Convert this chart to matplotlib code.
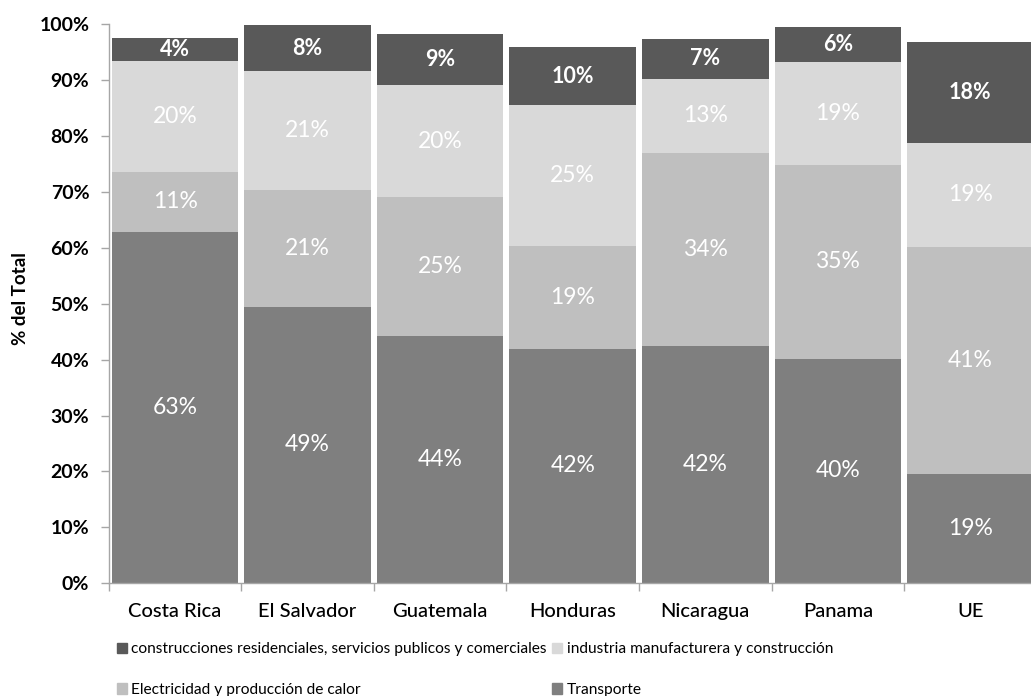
import matplotlib.pyplot as plt
from matplotlib.patches import Patch
from matplotlib.ticker import PercentFormatter
import numpy as np

plt.rcParams['font.family'] = ['Lato', 'DejaVu Sans']

paises = ['Costa Rica', 'El Salvador', 'Guatemala', 'Honduras', 'Nicaragua', 'Panama', 'UE']

# valores (% del total)
transporte = [62.9, 49.5, 44.3, 42.0, 42.5, 40.2, 19.5]
electricidad = [10.7, 20.9, 24.8, 18.4, 34.5, 34.6, 40.7]
industria = [19.9, 21.2, 20.0, 25.1, 13.3, 18.5, 18.6]
construcciones = [4.0, 8.2, 9.2, 10.5, 7.1, 6.3, 18.0]

etiquetas_transp = ['63%', '49%', '44%', '42%', '42%', '40%', '19%']
etiquetas_elec = ['11%', '21%', '25%', '19%', '34%', '35%', '41%']
etiquetas_ind = ['20%', '21%', '20%', '25%', '13%', '19%', '19%']
etiquetas_cons = ['4%', '8%', '9%', '10%', '7%', '6%', '18%']

series = [
	('Transporte', transporte, etiquetas_transp, '#7f7f7f'),
	('Electricidad y producción de calor', electricidad, etiquetas_elec, '#bfbfbf'),
	('industria manufacturera y construcción', industria, etiquetas_ind, '#d9d9d9'),
	('construcciones residenciales, servicios publicos y comerciales', construcciones, etiquetas_cons, '#595959'),
]

fig = plt.figure(figsize=(10.31, 6.96), dpi=100)
ax = fig.add_axes([0.1055, 0.162, 0.9, 0.803])

x = np.arange(len(paises))
base = np.zeros(len(paises))
handles = {}
for nombre, vals, etiq, color in series:
	vals = np.array(vals)
	ax.bar(x, vals, bottom=base, width=0.955, color=color, edgecolor='none')
	handles[nombre] = Patch(color=color, label=nombre)
	if color == '#595959':
		peso, tam = 'bold', 15.5
	else:
		peso, tam = 'normal', 16.5
	for xi, b, v, t in zip(x, base, vals, etiq):
		ax.text(xi, b + v / 2, t, ha='center', va='center', color='white',
				fontsize=tam, fontweight=peso)
	base = base + vals

ax.set_xlim(-0.5, len(paises) - 0.5)
ax.set_ylim(0, 100)
ax.yaxis.set_major_formatter(PercentFormatter(decimals=0))
ax.set_yticks(np.arange(0, 101, 10))
ax.set_xticks(x)
ax.set_xticklabels(paises, fontsize=14.5, fontweight='medium')
ax.set_xticks(np.arange(-0.5, len(paises), 1), minor=True)
ax.tick_params(axis='x', which='major', length=0, pad=14)
ax.tick_params(axis='x', which='minor', length=6, color='#a6a6a6', width=1)
ax.tick_params(axis='y', length=6, color='#a6a6a6', width=1, pad=8)
for lab in ax.get_yticklabels():
	lab.set_fontsize(14)
	lab.set_fontweight('bold')

for s in ['top', 'right']:
	ax.spines[s].set_visible(False)
for s in ['left', 'bottom']:
	ax.spines[s].set_color('#a6a6a6')
	ax.spines[s].set_linewidth(1)

ax.set_ylabel('% del Total', fontsize=13.5, fontweight='bold')
ax.yaxis.set_label_coords(-0.086, 0.51)

orden = ['construcciones residenciales, servicios publicos y comerciales',
		 'Electricidad y producción de calor',
		 'industria manufacturera y construcción',
		 'Transporte']
fig.legend(handles=[handles[n] for n in orden], ncol=2, loc='upper left',
		   bbox_to_anchor=(0.113, 0.077), frameon=False, fontsize=11.2,
		   handlelength=0.65, handleheight=0.65, handletextpad=0.3,
		   labelspacing=1.7, columnspacing=0.35, borderaxespad=0, borderpad=0)

fig.savefig('out.png', dpi=100)
